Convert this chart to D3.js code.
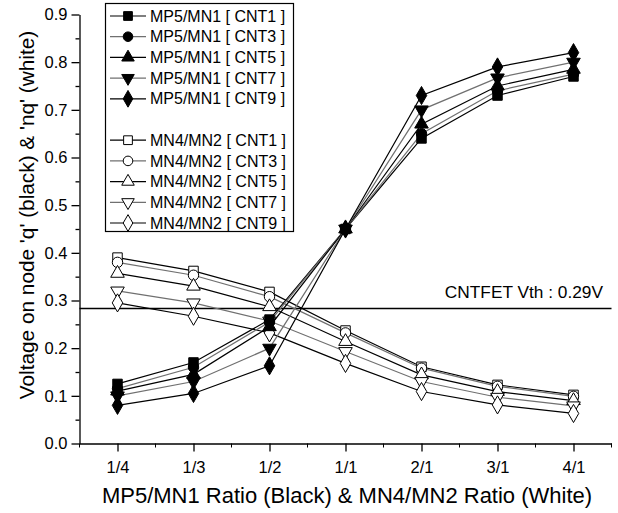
<!DOCTYPE html>
<html>
<head>
<meta charset="utf-8">
<script src="https://cdn.jsdelivr.net/npm/d3@7"></script>
<style>
body { margin: 0; background: #fff; }
text { font-family: "Liberation Sans", Arial, sans-serif; fill: #000; }
</style>
</head>
<body>
<div id="chart-area"></div>
<script>
var ratios = ["1/4", "1/3", "1/2", "1/1", "2/1", "3/1", "4/1"];
var cnts = ["CNT1", "CNT3", "CNT5", "CNT7", "CNT9"];
var yTicks = [0.0, 0.1, 0.2, 0.3, 0.4, 0.5, 0.6, 0.7, 0.8, 0.9];

// MP5/MN1 -> node q (black markers)
var mp5 = [
	[0.125, 0.170, 0.260, 0.45, 0.640, 0.730, 0.770],
	[0.115, 0.160, 0.255, 0.45, 0.650, 0.740, 0.775],
	[0.110, 0.145, 0.245, 0.45, 0.670, 0.750, 0.785],
	[0.100, 0.130, 0.200, 0.45, 0.700, 0.767, 0.800],
	[0.080, 0.105, 0.163, 0.45, 0.730, 0.790, 0.820]
];
// MN4/MN2 -> node nq (white markers)
var mn4 = [
	[0.390, 0.362, 0.318, 0.237, 0.161, 0.123, 0.102],
	[0.380, 0.353, 0.308, 0.232, 0.158, 0.120, 0.099],
	[0.357, 0.330, 0.287, 0.214, 0.144, 0.109, 0.090],
	[0.320, 0.295, 0.257, 0.193, 0.130, 0.097, 0.079],
	[0.295, 0.267, 0.232, 0.168, 0.109, 0.081, 0.063]
];
var vth = 0.283;
var vthLabel = "CNTFET Vth : 0.29V";

var width = 618, height = 513;
var plot = {left: 79.5, right: 611.5, top: 14.5, bottom: 443.5};

var svg = d3.select("#chart-area").append("svg")
	.attr("width", width).attr("height", height);

var xScale = d3.scalePoint().domain(ratios).range([plot.left, plot.right]).padding(0.5);
var yScale = d3.scaleLinear().domain([0, 0.9]).range([plot.bottom, plot.top]);

var shapes = [
	{type: d3.symbolSquare, size: 90, rot: 0},
	{type: d3.symbolCircle, size: 85, rot: 0},
	{type: d3.symbolTriangle, size: 80, rot: 0},
	{type: d3.symbolTriangle, size: 80, rot: 180},
	{type: d3.symbolDiamond, size: 95, rot: 0}
];
var lineColors = ["#000", "#707070", "#000", "#707070", "#000"];

// y axis, minor then major
svg.append("g").attr("transform", "translate(" + plot.left + ",0)")
	.call(d3.axisLeft(yScale).tickValues(d3.range(0.05, 0.9, 0.1)).tickSize(4).tickFormat(""))
	.call(g => g.select(".domain").remove());
var yAxis = svg.append("g").attr("transform", "translate(" + plot.left + ",0)")
	.call(d3.axisLeft(yScale).tickValues(yTicks).tickSize(8).tickSizeOuter(0).tickPadding(4).tickFormat(d3.format(".1f")));
yAxis.selectAll("text").attr("font-size", "16.5px").attr("font-family", null);

// x axis
var step = xScale.step();
var xAxis = svg.append("g").attr("transform", "translate(0," + plot.bottom + ")")
	.call(d3.axisBottom(xScale).tickSize(8).tickSizeOuter(0).tickPadding(10));
xAxis.selectAll("text").attr("font-size", "16.5px").attr("font-family", null);
var minorX = ratios.map(r => xScale(r) - step / 2).concat([xScale(ratios[ratios.length - 1]) + step / 2]);
xAxis.selectAll("line.minor").data(minorX).enter().append("line")
	.attr("class", "minor").attr("x1", d => d).attr("x2", d => d)
	.attr("y1", 0).attr("y2", 4).attr("stroke", "#000");
svg.selectAll(".domain, .tick line").attr("stroke", "#000").attr("stroke-width", 1.3);

var yLabelY = 215;
svg.append("text")
	.attr("x", 34).attr("y", yLabelY)
	.attr("transform", "rotate(-90, 34," + yLabelY + ")")
	.attr("text-anchor", "middle").attr("font-size", "20.8px")
	.text("Voltage on node 'q' (black) & 'nq' (white)");

svg.append("text")
	.attr("x", 347).attr("y", 503)
	.attr("text-anchor", "middle").attr("font-size", "22px")
	.text("MP5/MN1 Ratio (Black) & MN4/MN2 Ratio (White)");

// threshold line
svg.append("line")
	.attr("x1", plot.left).attr("x2", plot.right)
	.attr("y1", yScale(vth)).attr("y2", yScale(vth))
	.attr("stroke", "#000").attr("stroke-width", 1.5);
svg.append("text")
	.attr("x", 603).attr("y", 298).attr("text-anchor", "end")
	.attr("font-size", "17.3px").text(vthLabel);

var line = d3.line().x((d, i) => xScale(ratios[i])).y(d => yScale(d));

function drawSeries(data, filled) {
	data.forEach((vals, k) => {
		svg.append("path").datum(vals)
			.attr("d", line).attr("fill", "none")
			.attr("stroke", lineColors[k]).attr("stroke-width", 1.2);
	});
	data.forEach((vals, k) => {
		var sym = d3.symbol().type(shapes[k].type).size(shapes[k].size);
		svg.append("g").selectAll("path").data(vals).enter().append("path")
			.attr("d", sym)
			.attr("transform", (d, i) => "translate(" + xScale(ratios[i]) + "," + yScale(d) + ") rotate(" + shapes[k].rot + ")")
			.attr("fill", filled ? "#000" : "#fff")
			.attr("stroke", "#000").attr("stroke-width", 1);
	});
}
drawSeries(mn4, false);
drawSeries(mp5, true);

// legend
var legend = svg.append("g");
legend.append("rect").attr("x", 105.5).attr("y", 3.5).attr("width", 188).attr("height", 228)
	.attr("fill", "#fff").attr("stroke", "#000").attr("stroke-width", 1.2);
var rowH = 20.7;
function legendRow(label, k, filled, row) {
	var y = 16 + row * rowH;
	var g = legend.append("g").attr("transform", "translate(0," + y + ")");
	g.append("line").attr("x1", 110).attr("x2", 146).attr("y1", 0).attr("y2", 0)
		.attr("stroke", lineColors[k]).attr("stroke-width", 1.2);
	g.append("path").attr("d", d3.symbol().type(shapes[k].type).size(shapes[k].size * 0.85))
		.attr("transform", "translate(128,0) rotate(" + shapes[k].rot + ")")
		.attr("fill", filled ? "#000" : "#fff").attr("stroke", "#000");
	g.append("text").attr("x", 150).attr("y", 0).attr("dy", "0.35em")
		.attr("font-size", "16px").text(label);
}
cnts.forEach((c, k) => legendRow("MP5/MN1 [ " + c + " ]", k, true, k));
cnts.forEach((c, k) => legendRow("MN4/MN2 [ " + c + " ]", k, false, k + 6));
</script>
</body>
</html>
